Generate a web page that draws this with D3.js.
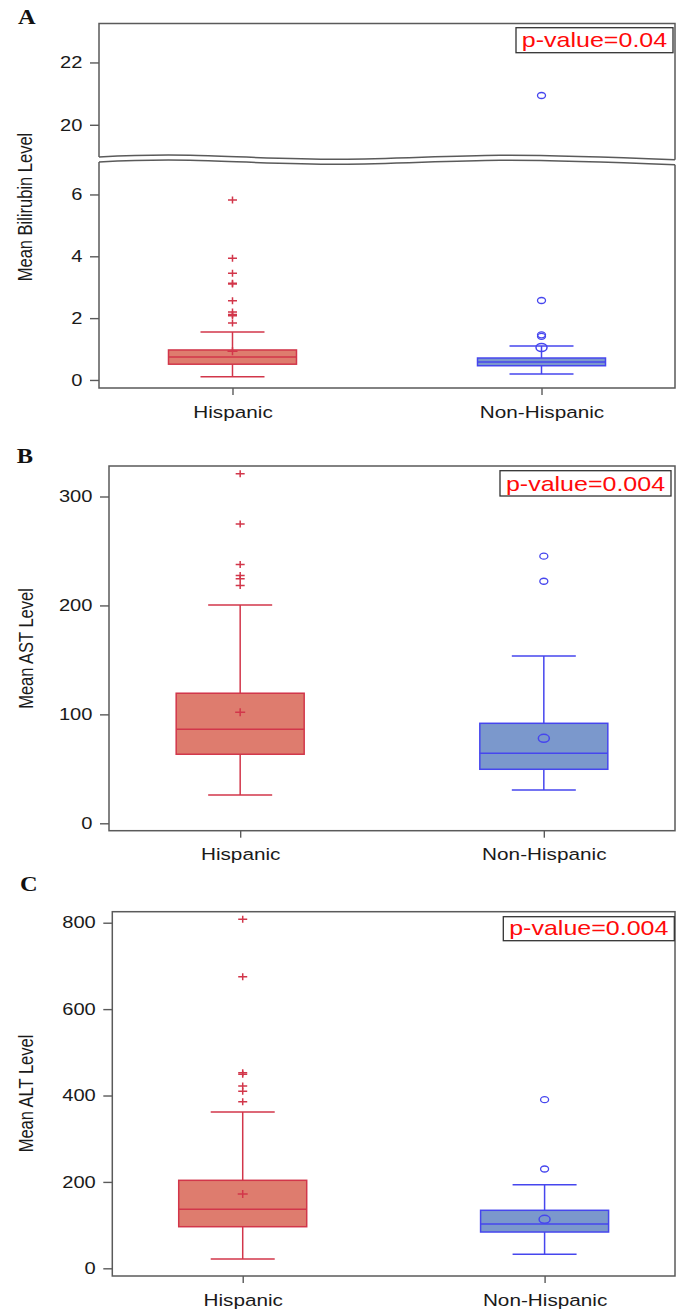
<!DOCTYPE html>
<html>
<head>
<meta charset="utf-8">
<script src="https://cdn.jsdelivr.net/npm/d3@7"></script>
<style>
  body { margin: 0; background: #fff; }
</style>
</head>
<body>
<div id="chart"></div>
<script>
// ---- values ----
var groups = ["Hispanic", "Non-Hispanic"];

var bilirubinBoxes = [
  {low: 0.10, q1: 0.51, median: 0.74, q3: 0.97, high: 1.55, mean: 0.93},
  {low: 0.19, q1: 0.46, median: 0.58, q3: 0.71, high: 1.10, mean: 1.05}
];
var bilirubinOutliers = [
  [5.82, 3.94, 3.45, 3.13, 3.10, 2.56, 2.20, 2.12, 2.08, 1.84],
  [20.94, 2.57, 1.46, 1.41]
];

var astBoxes = [
  {low: 26, q1: 63.4, median: 86.3, q3: 119.4, high: 200.5, mean: 102},
  {low: 30.6, q1: 49.6, median: 64.3, q3: 91.8, high: 153.6, mean: 78}
];
var astOutliers = [
  [320.8, 274.8, 237.5, 227.4, 224.4, 218.2],
  [245.2, 222.2]
];

var altBoxes = [
  {low: 21.5, q1: 96.3, median: 136.6, q3: 203.7, high: 361.8, mean: 172},
  {low: 32.4, q1: 84, median: 102.5, q3: 134.3, high: 193.5, mean: 113.4}
];
var altOutliers = [
  [807.9, 675, 452.8, 449.5, 422, 409.7, 385.7],
  [390.3, 229.9]
];

var bilirubinTicksLow = [0, 2, 4, 6];
var bilirubinTicksHigh = [20, 22];
var astTicks = [0, 100, 200, 300];
var altTicks = [0, 200, 400, 600, 800];
var yLabels = ["Mean Bilirubin Level", "Mean AST Level", "Mean ALT Level"];
var pValues = ["p-value=0.04", "p-value=0.004", "p-value=0.004"];

// ---- look ----
var svgWidth = 676;
var svgHeight = 1311;
var sx = 1.22;            // the source picture is stretched sideways
var frameRight = 675;
var frameColor = "#5a5a5a";
var fills = ["#de7c6e", "#7b98cc"];
var strokes = ["#d2364a", "#4646ee"];
var sansFont = "'Liberation Sans', Arial, sans-serif";

var svg = d3.select("#chart")
  .append("svg")
  .attr("width", svgWidth)
  .attr("height", svgHeight)
  .style("display", "block");

svg.append("rect").attr("width", svgWidth).attr("height", svgHeight).attr("fill", "#fff");

var panels = [
  {letter: "A", letterX: 18, letterY: 24, left: 99, top: 23.5, bottom: 388,
   domain: [-0.26, 7.05], breakLow: 162, highDomain: [18.95, 23.25], breakHigh: 157.5,
   ticks: bilirubinTicksLow, highTicks: bilirubinTicksHigh,
   boxes: bilirubinBoxes, outliers: bilirubinOutliers,
   yLabel: yLabels[0], yLabelX: 31.5, yLabelY: 207,
   pText: pValues[0], pBox: [516, 27.7, 157, 25]},
  {letter: "B", letterX: 16.7, letterY: 463.3, left: 109, top: 466, bottom: 830.7,
   domain: [-6.8, 328], ticks: astTicks,
   boxes: astBoxes, outliers: astOutliers,
   yLabel: yLabels[1], yLabelX: 32.5, yLabelY: 648.5,
   pText: pValues[1], pBox: [500, 470.7, 171, 25.3]},
  {letter: "C", letterX: 20, letterY: 890.7, left: 112.3, top: 911.7, bottom: 1276,
   domain: [-17.8, 825.5], ticks: altTicks,
   boxes: altBoxes, outliers: altOutliers,
   yLabel: yLabels[2], yLabelX: 33.3, yLabelY: 1093.5,
   pText: pValues[2], pBox: [503.3, 916.7, 171, 24]}
];

// stretch a text element sideways so it reads like the source
function place(sel, x, y, extra) {
  sel.attr("transform", `translate(${x},${y}) scale(${sx},1)` + (extra || ""));
}

function plusPath(h, v) {
  return `M${-h},0H${h}M0,${-v}V${v}`;
}

function styleAxis(axisG, fontSize) {
  axisG.select(".domain").remove();
  axisG.attr("font-family", sansFont).attr("font-size", fontSize);
  axisG.selectAll(".tick line").attr("stroke", frameColor).attr("stroke-width", 1.4);
  axisG.selectAll(".tick text").attr("fill", "#1a1a1a");
}

function drawPanel(p) {
  var g = svg.append("g");

  var x = d3.scalePoint()
    .domain(groups)
    .range([p.left, frameRight])
    .padding(0.432);

  var yLow = d3.scaleLinear()
    .domain(p.domain)
    .range([p.bottom, p.breakLow || p.top]);

  var yHigh = p.highDomain ? d3.scaleLinear().domain(p.highDomain).range([p.breakHigh, p.top]) : null;

  function yAny(v) {
    return (yHigh && v > p.highDomain[0]) ? yHigh(v) : yLow(v);
  }

  // frame
  if (yHigh) {
    var wave = [[p.left, 157], [190, 155.3], [340, 159.2], [500, 155.2], [frameRight, 159.8]];
    var waveLine = d3.line().curve(d3.curveNatural);
    var shift = p.breakLow - p.breakHigh + 0.5;
    var waveLow = wave.map(d => [d[0], d[1] + shift]);

    g.append("path")
      .attr("d", `M${p.left},${wave[0][1]}V${p.top}H${frameRight}V${wave[4][1]}`)
      .attr("fill", "none").attr("stroke", frameColor).attr("stroke-width", 1.5);
    g.append("path")
      .attr("d", waveLine(wave))
      .attr("fill", "none").attr("stroke", frameColor).attr("stroke-width", 1.5);
    g.append("path")
      .attr("d", waveLine(waveLow))
      .attr("fill", "none").attr("stroke", frameColor).attr("stroke-width", 1.5);
    g.append("path")
      .attr("d", `M${p.left},${waveLow[0][1]}V${p.bottom}H${frameRight}V${waveLow[4][1]}`)
      .attr("fill", "none").attr("stroke", frameColor).attr("stroke-width", 1.5);
  } else {
    g.append("rect")
      .attr("x", p.left).attr("y", p.top)
      .attr("width", frameRight - p.left).attr("height", p.bottom - p.top)
      .attr("fill", "none").attr("stroke", frameColor).attr("stroke-width", 1.5);
  }

  // y axis (one or two pieces)
  var tickSize = 9, tickPad = 7.5;
  var scalesAndTicks = [[yLow, p.ticks]];
  if (yHigh) scalesAndTicks.push([yHigh, p.highTicks]);

  scalesAndTicks.forEach(function(st) {
    var ay = g.append("g")
      .attr("transform", `translate(${p.left},0)`)
      .call(d3.axisLeft(st[0]).tickValues(st[1]).tickSize(tickSize).tickPadding(tickPad).tickFormat(d3.format("d")));
    styleAxis(ay, 16.5);
    ay.selectAll(".tick text").attr("x", 0).each(function() {
      place(d3.select(this), -(tickSize + tickPad), 0);
    });
  });

  // x axis
  var ax = g.append("g")
    .attr("transform", `translate(0,${p.bottom})`)
    .call(d3.axisBottom(x).tickSize(7).tickPadding(10.5));
  styleAxis(ax, 17);
  ax.selectAll(".tick text").attr("y", 0).each(function() {
    place(d3.select(this), 0, 17.5);
  });

  // boxes
  var boxW = 128, capW = 64;
  p.boxes.forEach(function(b, i) {
    var cx = x(groups[i]);
    var bg = g.append("g").attr("stroke", strokes[i]).attr("stroke-width", 1.5);

    bg.append("line").attr("x1", cx).attr("x2", cx).attr("y1", yLow(b.q3)).attr("y2", yLow(b.high));
    bg.append("line").attr("x1", cx).attr("x2", cx).attr("y1", yLow(b.q1)).attr("y2", yLow(b.low));
    bg.append("line").attr("x1", cx - capW / 2).attr("x2", cx + capW / 2).attr("y1", yLow(b.high)).attr("y2", yLow(b.high));
    bg.append("line").attr("x1", cx - capW / 2).attr("x2", cx + capW / 2).attr("y1", yLow(b.low)).attr("y2", yLow(b.low));

    bg.append("rect")
      .attr("x", cx - boxW / 2)
      .attr("y", yLow(b.q3))
      .attr("width", boxW)
      .attr("height", yLow(b.q1) - yLow(b.q3))
      .attr("fill", fills[i]);

    bg.append("line").attr("x1", cx - boxW / 2).attr("x2", cx + boxW / 2).attr("y1", yLow(b.median)).attr("y2", yLow(b.median));

    // mean marker
    if (i === 0) {
      bg.append("path").attr("d", plusPath(5, 4)).attr("transform", `translate(${cx},${yLow(b.mean)})`).attr("fill", "none");
    } else {
      bg.append("ellipse").attr("cx", cx).attr("cy", yLow(b.mean)).attr("rx", 5.5).attr("ry", 4).attr("fill", "none");
    }
  });

  // outliers
  p.outliers.forEach(function(list, i) {
    var cx = x(groups[i]);
    if (i === 0) {
      g.selectAll(null)
        .data(list)
        .enter()
        .append("path")
        .attr("d", plusPath(4.5, 3.5))
        .attr("transform", d => `translate(${cx},${yAny(d)})`)
        .attr("fill", "none")
        .attr("stroke", strokes[0])
        .attr("stroke-width", 1.5);
    } else {
      g.selectAll(null)
        .data(list)
        .enter()
        .append("ellipse")
        .attr("cx", cx)
        .attr("cy", d => yAny(d))
        .attr("rx", 4)
        .attr("ry", 3)
        .attr("fill", "none")
        .attr("stroke", strokes[1])
        .attr("stroke-width", 1.3);
    }
  });

  // y label
  var yl = g.append("text")
    .attr("text-anchor", "middle")
    .attr("font-family", sansFont)
    .attr("font-size", 16.5)
    .attr("fill", "#1a1a1a")
    .text(p.yLabel);
  place(yl, p.yLabelX, p.yLabelY, " rotate(-90)");

  // panel letter
  var lt = g.append("text")
    .attr("font-family", "'Liberation Serif', 'Times New Roman', serif")
    .attr("font-weight", "bold")
    .attr("font-size", 20)
    .attr("fill", "#111")
    .text(p.letter);
  place(lt, p.letterX, p.letterY);

  // p-value box
  var pb = p.pBox;
  g.append("rect")
    .attr("x", pb[0]).attr("y", pb[1])
    .attr("width", pb[2]).attr("height", pb[3])
    .attr("fill", "#fff")
    .attr("stroke", "#333")
    .attr("stroke-width", 1.3);
  var pt = g.append("text")
    .attr("text-anchor", "middle")
    .attr("font-family", sansFont)
    .attr("font-size", 20.5)
    .attr("fill", "#ff0a0a")
    .text(p.pText);
  place(pt, pb[0] + pb[2] / 2, pb[1] + pb[3] - 5.3);
}

panels.forEach(drawPanel);
</script>
</body>
</html>
